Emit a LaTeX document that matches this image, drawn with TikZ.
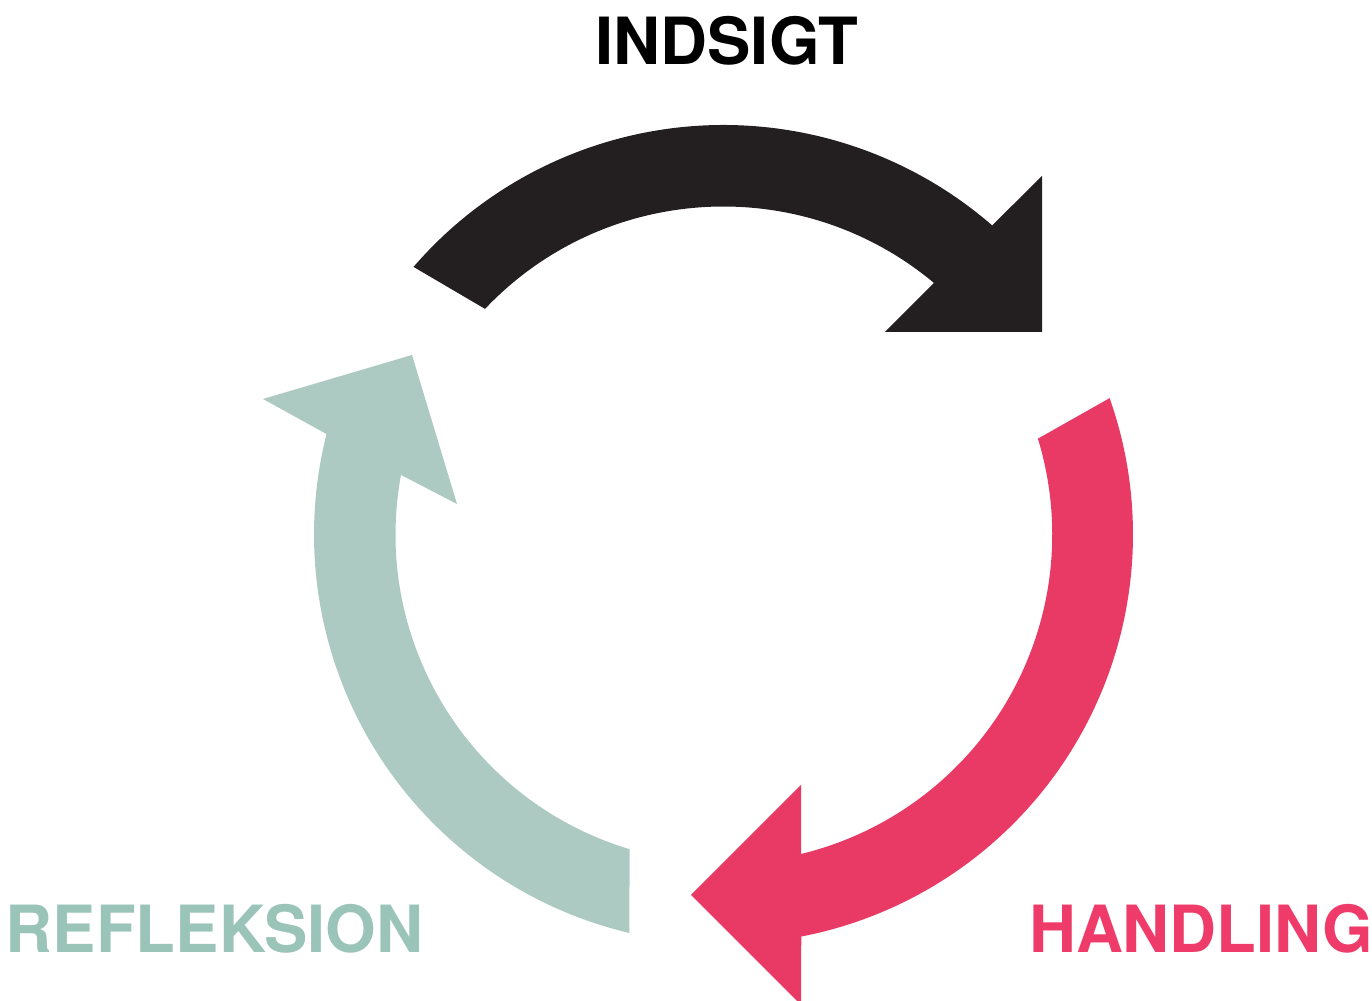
\documentclass[tikz,border=0pt]{standalone}
\usepackage{fontspec}
\setmainfont{TeX Gyre Heros}

\definecolor{indsigtcol}{HTML}{231F20}
\definecolor{handlingcol}{HTML}{E83A64}
\definecolor{handlingtxt}{HTML}{EE3B69}
\definecolor{refleksioncol}{HTML}{ADCAC2}
\definecolor{refleksiontxt}{HTML}{9BC4B9}

\begin{document}
\begin{tikzpicture}[
    x=0.01cm, y=0.01cm,
    label/.style={inner sep=0pt, anchor=base, font=\fontsize{18.5pt}{20pt}\selectfont\bfseries}
]
\useasboundingbox (0,0) rectangle (1372,1001);
\clip (0,0) rectangle (1372,1001);
\coordinate (c) at (723.5,466.5);

% top arrow
\fill[indsigtcol] (c) ++(139.2:409.5) arc[start angle=139.2, end angle=49.0, radius=409.5]
  -- (1042,825) -- (1042,669) -- (885,669) -- (934,718)
  arc[start angle=50.1, end angle=136.5, radius=328.5] -- cycle;

% right arrow
\fill[handlingcol] (c) ++(19.45:409.5) arc[start angle=19.45, end angle=-79.05, radius=409.5]
  -- (801,-4) -- (691,106) -- (801,216) -- (801,147)
  arc[start angle=-76.4, end angle=17.0, radius=328.5] -- cycle;

% left arrow
\fill[refleksioncol] (c) ++(256.7:409.5) arc[start angle=256.7, end angle=165.8, radius=409.5]
  -- (263,602) -- (412,646) -- (457,497) -- (401,526)
  arc[start angle=169.55, end angle=253.3, radius=328.5] -- cycle;

\node[label, text=black] (indsigt) at (727,936) {INDSIGT};
\node[label, text=refleksiontxt] (refleksion) at (214.5,48) {REFLEKSION};
\node[label, text=handlingtxt] (handling) at (1201,48) {HANDLING};
\end{tikzpicture}
\end{document}
